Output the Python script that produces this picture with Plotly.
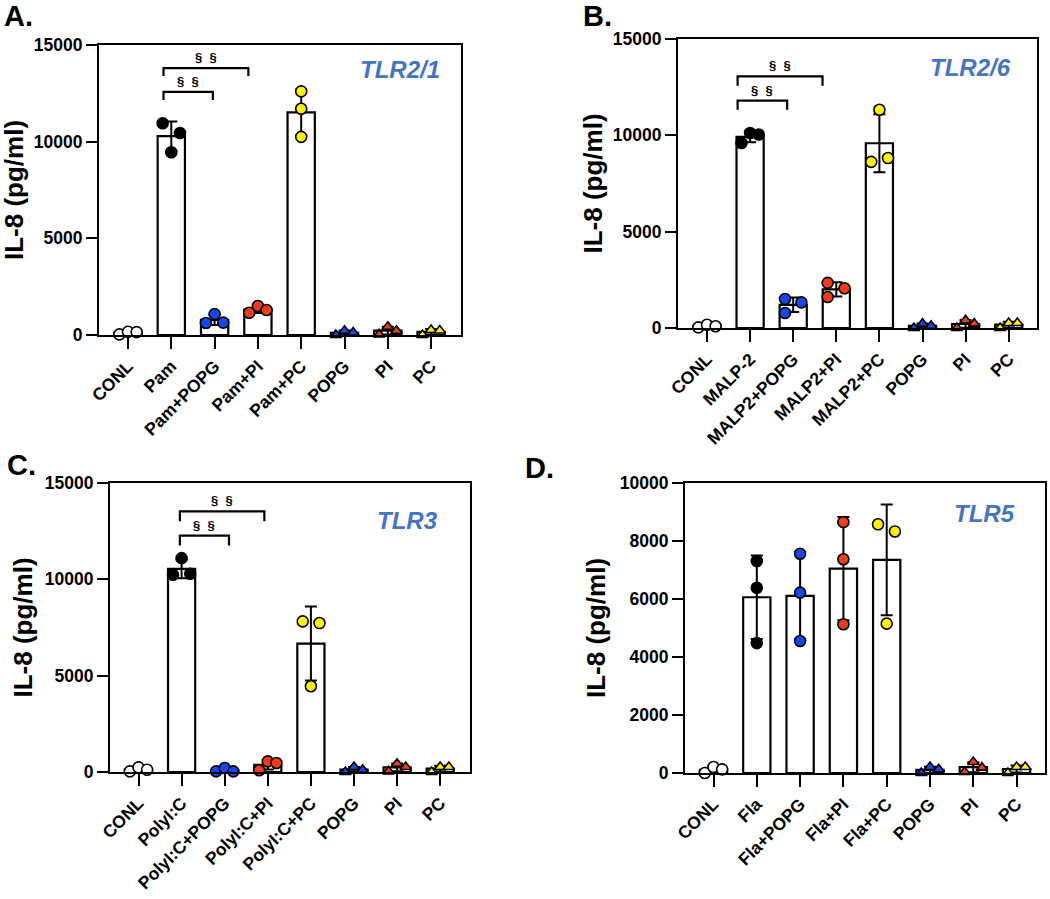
import numpy as np
import plotly.graph_objects as go

# ---------------- data ----------------
CATS_A = ["CONL", "Pam", "Pam+POPG", "Pam+PI", "Pam+PC", "POPG", "PI", "PC"]
CATS_B = ["CONL", "MALP-2", "MALP2+POPG", "MALP2+PI", "MALP2+PC", "POPG", "PI", "PC"]
CATS_C = ["CONL", "PolyI:C", "PolyI:C+POPG", "PolyI:C+PI", "PolyI:C+PC", "POPG", "PI", "PC"]
CATS_D = ["CONL", "Fla", "Fla+POPG", "Fla+PI", "Fla+PC", "POPG", "PI", "PC"]

VALS_A = [[30, 170, 150], [10950, 9450, 10450], [620, 1080, 640], [1150, 1500, 1290],
          [12600, 11700, 10250], [0, 220, 130], [30, 430, 220], [0, 260, 230]]
VALS_B = [[35, 170, 90], [9600, 10120, 10040], [1505, 780, 1330], [2340, 1610, 2060],
          [11330, 8620, 8820], [0, 225, 120], [0, 400, 225], [0, 260, 260]]
VALS_C = [[35, 240, 120], [10240, 11100, 10290], [35, 210, 35], [90, 550, 470],
          [7820, 7730, 4450], [0, 260, 120], [35, 430, 260], [0, 260, 260]]
VALS_D = [[0, 207, 126], [7310, 6390, 4480], [7560, 6220, 4550], [8650, 7370, 5130],
          [8575, 8330, 5150], [0, 207, 126], [35, 380, 184], [0, 207, 207]]

TICKS_15K = [0, 5000, 10000, 15000]
TICKS_10K = [0, 2000, 4000, 6000, 8000, 10000]

PANEL_LABELS = ["A.", "B.", "C.", "D."]
RECEPTORS = ["TLR2/1", "TLR2/6", "TLR3", "TLR5"]
Y_TITLE = "IL-8 (pg/ml)"
SIG_TEXT = "§&nbsp;&nbsp;§"

# ---------------- styling / layout (not data) ----------------
W, H = 1050, 899
BLACK = "#000000"
WHITE = "#FFFFFF"
BLUE = "#1646EE"
RED = "#F23C17"
YELLOW = "#FFF200"
TLR_COLOR = "#4573C6"
FONT = "Liberation Sans, Arial, sans-serif"

COLORS = [WHITE, BLACK, BLUE, RED, YELLOW, BLUE, RED, YELLOW]
SYMBOLS = ["circle"] * 5 + ["triangle-up"] * 3

J3 = [-0.2, 0.0, 0.2]
JIT_A = [J3, J3, J3, J3, [0, 0, 0], J3, J3, J3]
JIT_B = [J3, J3, [-0.19, -0.19, 0.19], [-0.2, -0.2, 0.19], [0, -0.19, 0.2], J3, J3, J3]
JIT_C = [J3, [-0.2, 0, 0.2], J3, J3, [-0.19, 0.2, 0], J3, J3, J3]
JIT_D = [J3, [0, 0, 0], [0, 0, 0], [0, 0, 0], [-0.2, 0.19, 0], J3, J3, J3]

# plot boxes in pixels: (left, top, right, bottom)
BOXES = [(99, 45, 461, 335), (678, 39, 1037, 328), (110, 483, 470, 772), (685, 483, 1045, 773)]
SPACING = [43.3, 43.1, 43.1, 43.3]
FIRST_OFF = [29, 29, 28.5, 28.5]

# brackets: (left, right, top y, leg bottom y)
BRK_A = [(0.82, 1.96, 12580, 12150), (0.82, 2.78, 13800, 13400)]
BRK_B = [(0.71, 1.86, 11800, 11330), (0.71, 2.68, 13060, 12580)]
BRK_C = [(0.96, 2.10, 12265, 11750), (0.96, 2.92, 13530, 13010)]

panels = [
    (CATS_A, VALS_A, JIT_A, TICKS_15K, 15000, BRK_A),
    (CATS_B, VALS_B, JIT_B, TICKS_15K, 15000, BRK_B),
    (CATS_C, VALS_C, JIT_C, TICKS_15K, 15000, BRK_C),
    (CATS_D, VALS_D, JIT_D, TICKS_10K, 10000, []),
]

fig = go.Figure()
layout = dict(width=W, height=H, margin=dict(l=0, r=0, t=0, b=0, autoexpand=False),
              paper_bgcolor=WHITE, plot_bgcolor=WHITE, showlegend=False,
              font=dict(family=FONT, color=BLACK))
annotations = []
shapes = []

for i, (cats, vals, jit, ticks, ymax, brks) in enumerate(panels):
    n = i + 1
    xa = "x" if n == 1 else f"x{n}"
    ya = "y" if n == 1 else f"y{n}"
    L, T, R, B = BOXES[i]
    sp = SPACING[i]
    x0 = -FIRST_OFF[i] / sp
    x1 = x0 + (R - L) / sp

    arr = np.array(vals, dtype=float)
    means = arr.mean(axis=1)
    sds = arr.std(axis=1, ddof=1)
    idx = np.arange(len(cats))

    fig.add_trace(go.Bar(
        x=idx, y=means, width=0.63, xaxis=xa, yaxis=ya,
        marker=dict(color=WHITE, line=dict(color=BLACK, width=2.2)),
        error_y=dict(type="data", array=sds, visible=True, color=BLACK, thickness=2, width=6),
        hoverinfo="skip"))

    for k in range(len(cats)):
        xs = [k + j for j in jit[k]]
        fig.add_trace(go.Scatter(
            x=xs, y=vals[k], mode="markers", xaxis=xa, yaxis=ya, cliponaxis=False,
            marker=dict(symbol=SYMBOLS[k], color=COLORS[k], size=11 if SYMBOLS[k] == "circle" else 10,
                        line=dict(color=BLACK, width=1.6)),
            hoverinfo="skip"))

    xkey = "xaxis" if n == 1 else f"xaxis{n}"
    ykey = "yaxis" if n == 1 else f"yaxis{n}"
    layout[xkey] = dict(
        domain=[L / W, R / W], anchor=ya, range=[x0, x1], automargin=False,
        tickmode="array", tickvals=list(idx), ticktext=cats, tickangle=-45,
        showline=True, linecolor=BLACK, linewidth=2.2, mirror=True,
        ticks="outside", ticklen=12, tickwidth=2.2, tickcolor=BLACK,
        showgrid=False, zeroline=False,
        tickfont=dict(family=FONT, size=17.5, color=BLACK, weight="bold"))
    layout[ykey] = dict(
        domain=[1 - B / H, 1 - T / H], anchor=xa, range=[0, ymax], automargin=False,
        tickmode="array", tickvals=ticks, ticktext=[str(t) for t in ticks],
        showline=True, linecolor=BLACK, linewidth=2.2, mirror=True,
        ticks="outside", ticklen=11, tickwidth=2.2, tickcolor=BLACK,
        showgrid=False, zeroline=False,
        tickfont=dict(family=FONT, size=17.5, color=BLACK, weight="bold"))

    # brackets
    for (bl, br, yt, yb) in brks:
        shapes.append(dict(type="path", xref=xa, yref=ya,
                           path=f"M {bl},{yb} L {bl},{yt} L {br},{yt} L {br},{yb}",
                           line=dict(color=BLACK, width=2.2)))
        annotations.append(dict(x=(bl + br) / 2, y=yt, xref=xa, yref=ya, text=SIG_TEXT,
                                showarrow=False, yanchor="bottom", yshift=1,
                                font=dict(family=FONT, size=13, color=BLACK, weight="bold")))

# axis titles
TITLE_X = [14, 592, 22, 596]
for i in range(4):
    L, T, R, B = BOXES[i]
    annotations.append(dict(x=TITLE_X[i] / W, y=1 - (T + B) / 2 / H, xref="paper", yref="paper",
                            text=Y_TITLE, textangle=-90, showarrow=False,
                            xanchor="center", yanchor="middle",
                            font=dict(family=FONT, size=26, color=BLACK, weight="bold")))

# panel letters
LETTER_POS = [(2, 16), (581, 16), (5, 465), (523, 468)]
for i, (px, py) in enumerate(LETTER_POS):
    annotations.append(dict(x=px / W, y=1 - py / H, xref="paper", yref="paper",
                            text=PANEL_LABELS[i], showarrow=False,
                            xanchor="left", yanchor="middle",
                            font=dict(family=FONT, size=29, color=BLACK, weight="bold")))

# receptor labels
REC_POS = [(442, 70), (1013, 67), (440, 520), (1017, 513)]
for i, (px, py) in enumerate(REC_POS):
    annotations.append(dict(x=px / W, y=1 - py / H, xref="paper", yref="paper",
                            text=f"<i>{RECEPTORS[i]}</i>", showarrow=False,
                            xanchor="right", yanchor="middle",
                            font=dict(family=FONT, size=24, color=TLR_COLOR, weight="bold")))

layout["annotations"] = annotations
layout["shapes"] = shapes
fig.update_layout(**layout)
fig.write_html("out.html", config={"displayModeBar": False},
               post_script="document.body.style.margin='0';document.body.style.overflow='hidden';")
